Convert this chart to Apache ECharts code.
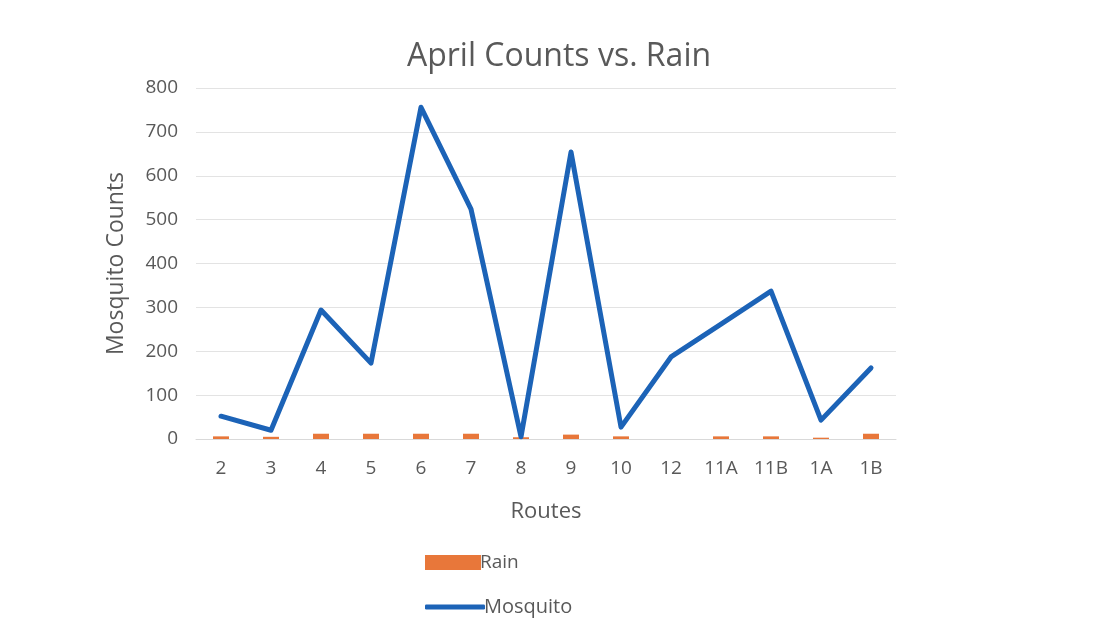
<!DOCTYPE html>
<html>
<head>
<meta charset="utf-8">
<script src="https://cdn.jsdelivr.net/npm/echarts@6/dist/echarts.min.js"></script>
<style>
  html, body { margin: 0; padding: 0; background: #fff; }
  #chart { width: 1118px; height: 631px; }
</style>
</head>
<body>
<div id="chart"></div>
<script>
const routes = ['2', '3', '4', '5', '6', '7', '8', '9', '10', '12', '11A', '11B', '1A', '1B']
const mosquito = [52, 20, 294, 173, 756, 524, 5, 654, 27, 187, 262, 337, 43, 162]
const rain = [6, 5, 12, 12, 12, 12, 4, 10, 6, 0, 6, 6, 3, 12]

const font = '"Open Sans", "Noto Sans", sans-serif'
const grey = '#595959'

const chart = echarts.init(document.getElementById('chart'))
chart.setOption({
  animation: false,
  textStyle: { fontFamily: font },
  title: {
    text: 'April Counts vs. Rain',
    left: 'center',
    top: 36,
    textStyle: { fontSize: 32, fontWeight: 'normal', color: grey, fontFamily: font },
  },
  legend: [
    {
      data: [{ name: 'Rain', icon: 'rect' }],
      left: 420, top: 548,
      itemWidth: 56, itemHeight: 15, itemGap: 0,
      textStyle: { fontSize: 19, color: grey, padding: [0, 0, 0, -6] },
    },
    {
      data: [{ name: 'Mosquito', icon: 'roundRect' }],
      left: 420, top: 592,
      itemWidth: 60, itemHeight: 5,
      textStyle: { fontSize: 20, color: grey, padding: [0, 0, 0, -6] },
    },
  ],
  grid: { left: 196, right: 222, top: 88, bottom: 192 },
  xAxis: {
    type: 'category',
    data: routes,
    name: 'Routes',
    nameLocation: 'middle',
    nameGap: 62,
    nameTextStyle: { fontSize: 22, color: grey },
    axisLine: { lineStyle: { color: '#d9d9d9' } },
    axisTick: { show: false },
    axisLabel: { fontSize: 19, color: grey, margin: 20 },
  },
  yAxis: {
    type: 'value',
    min: 0, max: 800, interval: 100,
    name: 'Mosquito Counts',
    nameLocation: 'middle',
    nameGap: 68,
    nameTextStyle: { fontSize: 23, color: grey },
    axisLabel: { fontSize: 19, color: grey, margin: 18 },
    splitLine: { lineStyle: { color: '#e3e3e3' } },
  },
  series: [
    {
      name: 'Rain',
      type: 'bar',
      data: rain,
      barWidth: '32%',
      itemStyle: { color: '#E8773A' },
    },
    {
      name: 'Mosquito',
      type: 'line',
      data: mosquito,
      symbol: 'none',
      lineStyle: { width: 5, color: '#1C63B7', cap: 'round', join: 'round' },
      itemStyle: { color: '#1C63B7' },
      z: 3,
    },
  ],
})
</script>
</body>
</html>
